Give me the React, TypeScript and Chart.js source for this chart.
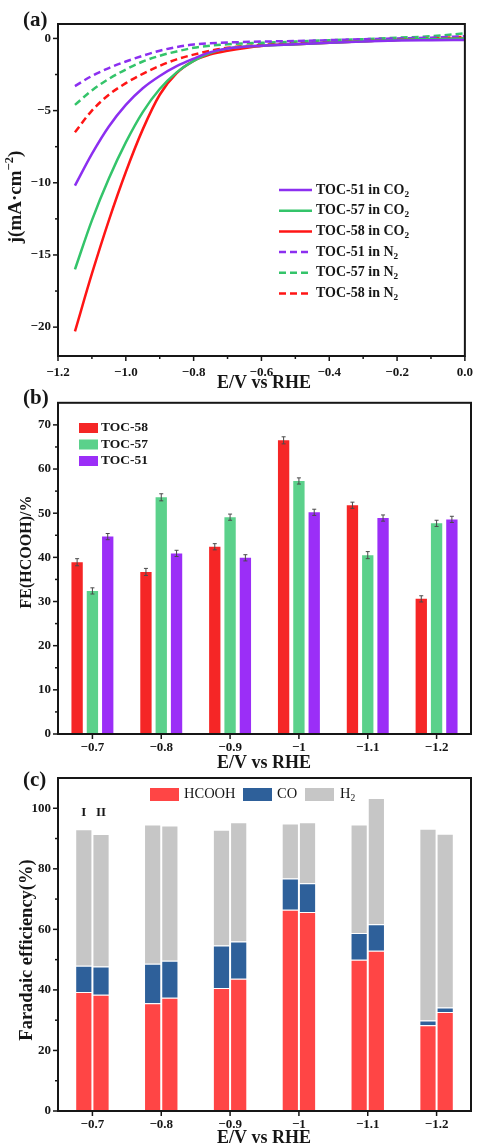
import React, { useEffect, useRef } from 'react';
import { Chart, registerables } from 'chart.js';

Chart.register(...registerables);

const SERIF = "'Liberation Serif', 'Times New Roman', Times, serif";
const INK = '#161616';

// ---------- Panel (a): LSV curves ----------
const POTENTIAL = [-1.15, -1.1, -1.05, -1.0, -0.95, -0.9, -0.85, -0.8, -0.75, -0.7, -0.6, -0.5, -0.4, -0.3, -0.2, -0.1, 0];
const TOC51_CO2 = [-10.2, -8.0, -6.1, -4.6, -3.45, -2.6, -1.92, -1.4, -0.95, -0.7, -0.5, -0.4, -0.3, -0.22, -0.15, -0.12, -0.1];
const TOC57_CO2 = [-16.0, -12.6, -9.7, -7.2, -5.1, -3.5, -2.35, -1.55, -1.0, -0.7, -0.5, -0.4, -0.3, -0.2, -0.1, -0.05, 0];
const TOC58_CO2 = [-20.3, -16.3, -12.6, -9.25, -6.3, -3.9, -2.4, -1.55, -1.1, -0.85, -0.52, -0.4, -0.3, -0.2, -0.1, -0.05, 0];
const TOC51_N2 = [-3.3, -2.6, -2.05, -1.6, -1.2, -0.85, -0.6, -0.42, -0.33, -0.28, -0.22, -0.18, -0.12, -0.05, 0, 0.05, 0.15];
const TOC57_N2 = [-4.6, -3.6, -2.8, -2.15, -1.6, -1.2, -0.9, -0.65, -0.5, -0.4, -0.3, -0.22, -0.12, -0.05, 0.05, 0.15, 0.35];
const TOC58_N2 = [-6.5, -5.0, -3.9, -3.1, -2.45, -1.9, -1.45, -1.12, -0.85, -0.65, -0.45, -0.32, -0.2, -0.1, -0.02, 0.03, 0.1];
const LSV_LABELS = ['TOC-51 in CO₂', 'TOC-57 in CO₂', 'TOC-58 in CO₂', 'TOC-51 in N₂', 'TOC-57 in N₂', 'TOC-58 in N₂'];
const X_TICKS_A = [-1.2, -1.0, -0.8, -0.6, -0.4, -0.2, 0];
const X_MINOR_A = [-1.1, -0.9, -0.7, -0.5, -0.3, -0.1];
const Y_TICKS_A = [-20, -15, -10, -5, 0];
const Y_MINOR_A = [-17.5, -12.5, -7.5, -2.5];

// ---------- Panel (b): FE(HCOOH) ----------
const POTENTIAL_CATS = ['−0.7', '−0.8', '−0.9', '−1', '−1.1', '−1.2'];
const FE_LABELS = ['TOC-58', 'TOC-57', 'TOC-51'];
const FE_TOC58 = [38.9, 36.7, 42.4, 66.5, 51.8, 30.6];
const FE_TOC57 = [32.4, 53.6, 49.1, 57.3, 40.5, 47.7];
const FE_TOC51 = [44.7, 40.9, 39.9, 50.2, 48.9, 48.6];
const ERR_TOC58 = [0.8, 0.8, 0.7, 0.8, 0.7, 0.7];
const ERR_TOC57 = [0.7, 0.8, 0.7, 0.7, 0.8, 0.7];
const ERR_TOC51 = [0.7, 0.7, 0.7, 0.7, 0.7, 0.7];
const Y_TICKS_B = [0, 10, 20, 30, 40, 50, 60, 70];
const Y_MINOR_B = [5, 15, 25, 35, 45, 55, 65];

// ---------- Panel (c): Faradaic efficiency stacks ----------
const PRODUCT_LABELS = ['HCOOH', 'CO', 'H₂'];
const SAMPLE_MARKS = ['I', 'II'];
const HCOOH_I = [39.3, 35.6, 40.6, 66.5, 50.0, 28.3];
const CO_I = [8.7, 13.0, 14.1, 10.3, 8.8, 1.6];
const H2_I = [45.1, 46.0, 38.2, 18.2, 35.8, 63.3];
const HCOOH_II = [38.4, 37.4, 43.7, 65.7, 52.9, 32.7];
const CO_II = [9.3, 12.2, 12.3, 9.5, 8.8, 1.5];
const H2_II = [43.8, 44.7, 39.4, 20.2, 41.7, 57.4];
const Y_TICKS_C = [0, 20, 40, 60, 80, 100];
const Y_MINOR_C = [10, 30, 50, 70, 90];

const fmt = (v: number, d: number) => {
  const s = Math.abs(v).toFixed(d);
  return v < 0 ? '−' + s : s;
};

type Run = { t: string; kind: 'n' | 'sub' | 'sup' };
const SPECIAL: Record<string, [string, 'sub' | 'sup']> = {
  '₂': ['2', 'sub'],
  '²': ['2', 'sup'],
  '⁻': ['−', 'sup'],
};
function toRuns(s: string): Run[] {
  const runs: Run[] = [];
  for (const ch of s) {
    const m = SPECIAL[ch];
    const kind = m ? m[1] : 'n';
    const t = m ? m[0] : ch;
    const last = runs[runs.length - 1];
    if (last && last.kind === kind) last.t += t;
    else runs.push({ t, kind });
  }
  return runs;
}
function drawRich(
  ctx: CanvasRenderingContext2D,
  s: string,
  x: number,
  y: number,
  size: number,
  weight: string,
  align: 'left' | 'center' = 'left'
) {
  const runs = toRuns(s);
  const f = (sz: number) => `${weight} ${sz}px ${SERIF}`;
  const small = size * 0.66;
  let w = 0;
  for (const r of runs) {
    ctx.font = f(r.kind === 'n' ? size : small);
    w += ctx.measureText(r.t).width;
  }
  let cx = align === 'center' ? x - w / 2 : x;
  ctx.textBaseline = 'middle';
  ctx.textAlign = 'left';
  ctx.fillStyle = INK;
  for (const r of runs) {
    const sz = r.kind === 'n' ? size : small;
    ctx.font = f(sz);
    const dy = r.kind === 'sub' ? size * 0.3 : r.kind === 'sup' ? -size * 0.33 : 0;
    ctx.fillText(r.t, cx, y + dy);
    cx += ctx.measureText(r.t).width;
  }
}
function drawRotated(ctx: CanvasRenderingContext2D, s: string, cx: number, cy: number, size: number) {
  ctx.save();
  ctx.translate(cx, cy);
  ctx.rotate(-Math.PI / 2);
  drawRich(ctx, s, 0, 0, size, 'bold', 'center');
  ctx.restore();
}

function decorPlugin(id: string, minorX: number[], minorY: number[], extra: (ctx: CanvasRenderingContext2D, chart: any) => void) {
  return {
    id,
    afterDraw(chart: any) {
      const { ctx, chartArea: a, scales } = chart;
      const x = scales.x;
      const y = scales.y;
      ctx.save();
      ctx.strokeStyle = INK;
      const seg = (x1: number, y1: number, x2: number, y2: number) => {
        ctx.beginPath();
        ctx.moveTo(x1, y1);
        ctx.lineTo(x2, y2);
        ctx.stroke();
      };
      ctx.lineWidth = 1.5;
      x.ticks.forEach((_: any, i: number) => {
        const px = x.getPixelForTick(i);
        seg(px, a.bottom, px, a.bottom + 5);
      });
      minorX.forEach((v) => {
        const px = x.getPixelForValue(v);
        seg(px, a.bottom, px, a.bottom + 3);
      });
      y.ticks.forEach((_: any, i: number) => {
        const py = y.getPixelForTick(i);
        seg(a.left - 5, py, a.left, py);
      });
      minorY.forEach((v) => {
        const py = y.getPixelForValue(v);
        seg(a.left - 3, py, a.left, py);
      });
      ctx.lineWidth = 2;
      ctx.strokeRect(a.left, a.top, a.right - a.left, a.bottom - a.top);
      extra(ctx, chart);
      ctx.restore();
    },
  };
}

const tickFont = { family: SERIF, weight: 'bold' as const, size: 13 };

function baseScales(xh: number, xpad: number) {
  return {
    grid: { display: false, drawTicks: false },
    border: { display: false },
    afterFit: (s: any) => {
      s.height = xh;
    },
    ticks: { padding: xpad, font: tickFont, color: INK, autoSkip: false, maxRotation: 0 },
  };
}

export default function App() {
  const refA = useRef<HTMLCanvasElement>(null);
  const refB = useRef<HTMLCanvasElement>(null);
  const refC = useRef<HTMLCanvasElement>(null);

  useEffect(() => {
    document.body.style.margin = '0';
    const charts: Chart[] = [];

    // ---- (a) ----
    const lineColors = ['#8c2ff0', '#34c46a', '#ff1515'];
    const series = [TOC51_CO2, TOC57_CO2, TOC58_CO2, TOC51_N2, TOC57_N2, TOC58_N2];
    const dsA = series.map((arr, k) => ({
      label: LSV_LABELS[k],
      data: POTENTIAL.map((x, i) => ({ x, y: arr[i] })),
      borderColor: lineColors[k % 3],
      backgroundColor: lineColors[k % 3],
      borderWidth: 2.5,
      borderDash: k >= 3 ? [7, 4] : [],
      pointRadius: 0,
      cubicInterpolationMode: 'monotone' as const,
      fill: false,
    }));
    charts.push(
      new Chart(refA.current!, {
        type: 'line',
        data: { datasets: dsA as any },
        options: {
          responsive: false,
          animation: false,
          events: [],
          layout: { padding: { top: 24, right: 11, left: 0, bottom: 0 } },
          plugins: { legend: { display: false }, tooltip: { enabled: false } },
          scales: {
            x: {
              type: 'linear',
              min: -1.2,
              max: 0,
              ...baseScales(36, 9),
              afterBuildTicks: (s: any) => {
                s.ticks = X_TICKS_A.map((v) => ({ value: v }));
              },
              ticks: { ...baseScales(36, 9).ticks, callback: (v: any) => fmt(Number(v), 1) },
            } as any,
            y: {
              type: 'linear',
              min: -22,
              max: 1,
              grid: { display: false, drawTicks: false },
              border: { display: false },
              afterFit: (s: any) => {
                s.width = 58;
              },
              afterBuildTicks: (s: any) => {
                s.ticks = Y_TICKS_A.map((v) => ({ value: v }));
              },
              ticks: { padding: 7, font: tickFont, color: INK, callback: (v: any) => fmt(Number(v), 0) },
            } as any,
          },
        },
        plugins: [
          decorPlugin('decorA', X_MINOR_A, Y_MINOR_A, (ctx, chart) => {
            chart.data.datasets.forEach((ds: any, i: number) => {
              const yy = 190 + i * 20.7;
              ctx.save();
              ctx.strokeStyle = ds.borderColor;
              ctx.lineWidth = 2.5;
              ctx.setLineDash(ds.borderDash || []);
              ctx.beginPath();
              ctx.moveTo(279, yy);
              ctx.lineTo(312, yy);
              ctx.stroke();
              ctx.restore();
              drawRich(ctx, ds.label, 316, yy, 14, 'bold');
            });
            drawRich(ctx, 'E/V vs RHE', 264, 383, 18, 'bold', 'center');
            drawRotated(ctx, 'j(mA·cm⁻²)', 16, 197, 19);
            drawRich(ctx, '(a)', 23, 21, 21, 'bold');
          }),
        ],
      })
    );

    // ---- (b) ----
    const barColors = ['#f52626', '#5bd18b', '#9b2ef7'];
    const feSeries = [FE_TOC58, FE_TOC57, FE_TOC51];
    const feErr = [ERR_TOC58, ERR_TOC57, ERR_TOC51];
    charts.push(
      new Chart(refB.current!, {
        type: 'bar',
        data: {
          labels: POTENTIAL_CATS,
          datasets: feSeries.map((d, k) => ({
            label: FE_LABELS[k],
            data: d,
            backgroundColor: barColors[k],
            categoryPercentage: 0.667,
            barPercentage: 0.74,
          })),
        },
        options: {
          responsive: false,
          animation: false,
          events: [],
          layout: { padding: { top: 13, right: 11, left: 0, bottom: 0 } },
          plugins: { legend: { display: false }, tooltip: { enabled: false } },
          scales: {
            x: { type: 'category', ...baseScales(41, 6) } as any,
            y: {
              type: 'linear',
              min: 0,
              max: 75,
              grid: { display: false, drawTicks: false },
              border: { display: false },
              afterFit: (s: any) => {
                s.width = 58;
              },
              afterBuildTicks: (s: any) => {
                s.ticks = Y_TICKS_B.map((v) => ({ value: v }));
              },
              ticks: { padding: 7, font: tickFont, color: INK },
            } as any,
          },
        },
        plugins: [
          decorPlugin('decorB', [], Y_MINOR_B, (ctx, chart) => {
            const y = chart.scales.y;
            ctx.strokeStyle = '#4a4a4a';
            ctx.lineWidth = 1;
            feSeries.forEach((vals, di) => {
              const meta = chart.getDatasetMeta(di);
              meta.data.forEach((el: any, i: number) => {
                const t = y.getPixelForValue(vals[i] + feErr[di][i]);
                const b = y.getPixelForValue(vals[i] - feErr[di][i]);
                ctx.beginPath();
                ctx.moveTo(el.x, t);
                ctx.lineTo(el.x, b);
                ctx.moveTo(el.x - 2, t);
                ctx.lineTo(el.x + 2, t);
                ctx.moveTo(el.x - 2, b);
                ctx.lineTo(el.x + 2, b);
                ctx.stroke();
              });
            });
            FE_LABELS.forEach((lab, i) => {
              const yy = 40 + i * 16.5;
              ctx.fillStyle = barColors[i];
              ctx.fillRect(79, yy - 5, 19, 10);
              drawRich(ctx, lab, 101, yy, 13.5, 'bold');
            });
            drawRich(ctx, 'E/V vs RHE', 264, 375, 18, 'bold', 'center');
            drawRotated(ctx, 'FE(HCOOH)/%', 27, 164, 16);
            drawRich(ctx, '(b)', 23, 11, 21, 'bold');
          }),
        ],
      })
    );

    // ---- (c) ----
    const prodColors = ['#ff4545', '#2e609a', '#c6c6c6'];
    const stacks = [
      { stack: 'I', sets: [HCOOH_I, CO_I, H2_I] },
      { stack: 'II', sets: [HCOOH_II, CO_II, H2_II] },
    ];
    const dsC: any[] = [];
    stacks.forEach((s) =>
      s.sets.forEach((d, k) =>
        dsC.push({
          label: PRODUCT_LABELS[k],
          data: d,
          stack: s.stack,
          backgroundColor: prodColors[k],
          borderColor: '#ffffff',
          borderWidth: 1,
          categoryPercentage: 0.5,
          barPercentage: 1,
        })
      )
    );
    charts.push(
      new Chart(refC.current!, {
        type: 'bar',
        data: { labels: POTENTIAL_CATS, datasets: dsC },
        options: {
          responsive: false,
          animation: false,
          events: [],
          layout: { padding: { top: 26, right: 11, left: 0, bottom: 0 } },
          plugins: { legend: { display: false }, tooltip: { enabled: false } },
          scales: {
            x: { type: 'category', stacked: true, ...baseScales(36, 6) } as any,
            y: {
              type: 'linear',
              stacked: true,
              min: 0,
              max: 110,
              grid: { display: false, drawTicks: false },
              border: { display: false },
              afterFit: (s: any) => {
                s.width = 58;
              },
              afterBuildTicks: (s: any) => {
                s.ticks = Y_TICKS_C.map((v) => ({ value: v }));
              },
              ticks: { padding: 7, font: tickFont, color: INK },
            } as any,
          },
        },
        plugins: [
          decorPlugin('decorC', [], Y_MINOR_C, (ctx, chart) => {
            const boxX = [150, 243, 305];
            const textX = [184, 277, 340];
            PRODUCT_LABELS.forEach((lab, i) => {
              ctx.fillStyle = prodColors[i];
              ctx.fillRect(boxX[i], 36, 29, 13);
              drawRich(ctx, lab, textX[i], 42.5, 14.5, 'normal');
            });
            const m0 = chart.getDatasetMeta(2).data[0];
            const m1 = chart.getDatasetMeta(5).data[0];
            drawRich(ctx, SAMPLE_MARKS[0], m0.x, 60.5, 13, 'bold', 'center');
            drawRich(ctx, SAMPLE_MARKS[1], m1.x, 60.5, 13, 'bold', 'center');
            drawRich(ctx, 'E/V vs RHE', 264, 386, 18, 'bold', 'center');
            drawRotated(ctx, 'Faradaic efficiency(%)', 27, 198, 18.5);
            drawRich(ctx, '(c)', 23, 29, 21, 'bold');
          }),
        ],
      })
    );

    return () => charts.forEach((c) => c.destroy());
  }, []);

  const cv = (top: number, h: number): React.CSSProperties => ({
    position: 'absolute',
    left: 0,
    top,
    width: 482,
    height: h,
  });

  return (
    <div style={{ position: 'relative', width: 482, height: 1147, background: '#fff', overflow: 'hidden' }}>
      <canvas ref={refA} width={482} height={392} style={cv(0, 392)} />
      <canvas ref={refB} width={482} height={387} style={cv(388, 387)} />
      <canvas ref={refC} width={482} height={395} style={cv(752, 395)} />
    </div>
  );
}
